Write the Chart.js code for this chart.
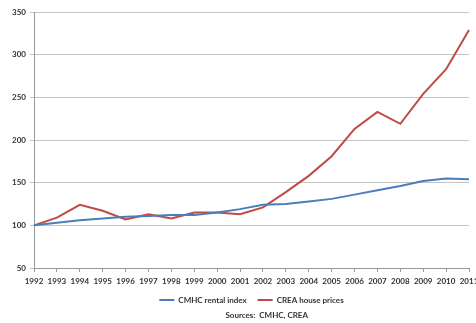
<!DOCTYPE html>
<html>
<head>
<meta charset="utf-8">
<script src="https://cdn.jsdelivr.net/npm/chart.js@4"></script>
<style>
html,body{margin:0;padding:0;background:#fff;}
#wrap{width:476px;height:323px;position:relative;}
</style>
</head>
<body>
<div id="wrap"><canvas id="c"></canvas></div>
<script>
const years = ['1992','1993','1994','1995','1996','1997','1998','1999','2000','2001','2002','2003','2004','2005','2006','2007','2008','2009','2010','2011'];
const cmhcRental = [100,103,106,108,110,111,112,112,115,119,124,125,128,131,136,141,146,152,155,154];
const creaPrices = [100,109,124,117,107,113,108,115,115,113,121,139,158,181,213,233,219,254,283,329];
const yTicks = [50,100,150,200,250,300,350];
const sourceText = 'Sources:  CMHC, CREA';

const FONT = 'Lato, "Liberation Sans", sans-serif';
const gridColor = '#c4c4c4';

const sourcesPlugin = {
  id: 'sources',
  afterDraw(chart) {
    const ctx = chart.ctx;
    ctx.save();
    ctx.font = 'bold 8px ' + FONT;
    ctx.fillStyle = '#333';
    ctx.textAlign = 'center';
    ctx.textBaseline = 'middle';
    const a = chart.chartArea;
    ctx.fillText(sourceText, a.left + (a.right - a.left) * 0.535, chart.height - 8);
    ctx.restore();
  }
};

new Chart(document.getElementById('c'), {
  type: 'line',
  data: {
    labels: years,
    datasets: [
      { label: 'CMHC rental index', data: cmhcRental, borderColor: '#4a7ebb', backgroundColor: '#4a7ebb', borderWidth: 2, pointRadius: 0, tension: 0 },
      { label: 'CREA house prices', data: creaPrices, borderColor: '#be4b48', backgroundColor: '#be4b48', borderWidth: 2, pointRadius: 0, tension: 0 }
    ]
  },
  options: {
    responsive: true,
    maintainAspectRatio: false,
    animation: false,
    layout: { padding: { top: 12, right: 7, left: 0, bottom: 9 } },
    plugins: {
      legend: {
        position: 'bottom',
        fullSize: false,
        labels: {
          usePointStyle: true,
          pointStyle: 'line',
          pointStyleWidth: 15,
          boxHeight: 8,
          padding: 11,
          color: '#333',
          font: { family: FONT, size: 8, weight: 'bold' }
        }
      },
      tooltip: { enabled: false }
    },
    scales: {
      x: {
        offset: false,
        grid: { display: true, drawOnChartArea: false, drawTicks: true, tickLength: 4, color: '#999' },
        border: { display: true, color: '#999' },
        ticks: { color: '#333', padding: 5, maxRotation: 0, autoSkip: false, font: { family: FONT, size: 8, weight: 'bold', lineHeight: 1 } },
        afterFit(scale) { scale.paddingRight = 0; scale.paddingLeft = 0; scale.height = 17; }
      },
      y: {
        min: 50, max: 350,
        afterBuildTicks(scale) { scale.ticks = yTicks.map(v => ({ value: v })); },
        grid: { color: gridColor, tickLength: 4, drawTicks: true },
        border: { display: true, color: '#999' },
        ticks: { color: '#333', padding: 4, font: { family: FONT, size: 8, weight: 'bold' } },
        afterFit(scale) { scale.width = 34; }
      }
    }
  },
  plugins: [sourcesPlugin]
});
</script>
</body>
</html>
